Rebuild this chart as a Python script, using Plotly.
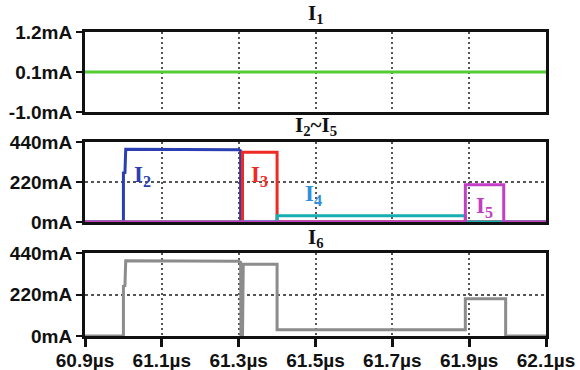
import plotly.graph_objects as go
from plotly.subplots import make_subplots

# Time axis (µs) and tick labels
x_ticks = [60.9, 61.1, 61.3, 61.5, 61.7, 61.9, 62.1]
x_ticktext = ["60.9µs", "61.1µs", "61.3µs", "61.5µs", "61.7µs", "61.9µs", "62.1µs"]

# I1: constant current (mA)
t1 = [60.9, 62.1]
i1 = [0.1, 0.1]
i1_ticks = [-1.0, 0.1, 1.2]
i1_ticktext = ["-1.0mA", "0.1mA", "1.2mA"]

# I2..I5 step waveforms (mA)
t2 = [60.9, 61.0, 61.0, 61.004, 61.006, 61.30, 61.305, 61.305, 62.1]
i2 = [0, 0, 270, 272, 400, 398, 392, 0, 0]

t3 = [60.9, 61.31, 61.31, 61.40, 61.40, 62.1]
i3 = [0, 0, 384, 384, 0, 0]

t4 = [60.9, 61.40, 61.40, 61.89, 61.89, 62.1]
i4 = [0, 0, 34, 34, 0, 0]

t5 = [60.9, 61.89, 61.89, 61.99, 61.99, 62.1]
i5 = [0, 0, 205, 205, 0, 0]

# I6 total current (mA)
t6 = [60.9, 61.0, 61.0, 61.004, 61.006, 61.30, 61.305, 61.306, 61.31, 61.312,
      61.40, 61.40, 61.89, 61.89, 61.995, 61.995, 62.1]
i6 = [0, 0, 265, 268, 400, 398, 392, 0, 0, 382,
      382, 33, 33, 198, 198, 0, 0]

ma_ticks = [0, 220, 440]
ma_ticktext = ["0mA", "220mA", "440mA"]

fig = make_subplots(rows=3, cols=1, shared_xaxes=True)

BLACK = "#111111"
GRID = "#555555"

fig.add_trace(go.Scatter(x=t1, y=i1, mode="lines",
                         line=dict(color="#55cc33", width=3)), row=1, col=1)

fig.add_trace(go.Scatter(x=t2, y=i2, mode="lines",
                         line=dict(color="#2b3fb3", width=3)), row=2, col=1)
fig.add_trace(go.Scatter(x=t3, y=i3, mode="lines",
                         line=dict(color="#ee2a24", width=3)), row=2, col=1)
fig.add_trace(go.Scatter(x=t4, y=i4, mode="lines",
                         line=dict(color="#17aeb2", width=3)), row=2, col=1)
fig.add_trace(go.Scatter(x=t5, y=i5, mode="lines",
                         line=dict(color="#c23ec4", width=3)), row=2, col=1)

fig.add_trace(go.Scatter(x=t6, y=i6, mode="lines",
                         line=dict(color="#8c8c8c", width=3)), row=3, col=1)

for tr in fig.data:
    tr.cliponaxis = False

tick_font = dict(family="Liberation Sans, Arial, sans-serif", size=19,
                 color=BLACK, weight="bold")

common_x = dict(range=[60.9, 62.1], tickvals=x_ticks, showline=True,
                linecolor=BLACK, linewidth=3, mirror=True, zeroline=False,
                automargin=False,
                showgrid=True, gridcolor=GRID, gridwidth=1.5, griddash="2px,3px")

fig.update_xaxes(**common_x, ticks="", showticklabels=False, row=1, col=1)
fig.update_xaxes(**common_x, ticks="", showticklabels=False, row=2, col=1)
fig.update_xaxes(**common_x, ticks="outside", ticklen=8, tickwidth=3,
                 tickcolor=BLACK, ticktext=x_ticktext, showticklabels=True,
                 ticklabelstandoff=-3, tickfont=tick_font, row=3, col=1)

common_y = dict(showline=True, linecolor=BLACK, linewidth=3, mirror=True,
                zeroline=False, ticks="outside", ticklen=6, tickwidth=2,
                automargin=False,
                tickcolor=BLACK, tickfont=tick_font, showgrid=True,
                gridcolor=GRID, gridwidth=1.5, griddash="3px,3px")

fig.update_yaxes(**common_y, range=[-1.0, 1.2], tickvals=i1_ticks,
                 ticktext=i1_ticktext, domain=[0.737, 1.0], row=1, col=1)
fig.update_yaxes(**common_y, range=[0, 440], tickvals=ma_ticks,
                 ticktext=ma_ticktext, domain=[0.375, 0.638], row=2, col=1)
fig.update_yaxes(**common_y, range=[0, 440], tickvals=ma_ticks,
                 ticktext=ma_ticktext, domain=[0.0, 0.272], row=3, col=1)

title_font = dict(family="Liberation Serif, Times New Roman, serif", size=21,
                  color=BLACK, weight="bold")
label_font = dict(family="Liberation Serif, Times New Roman, serif", size=23,
                  weight="bold")

annotations = [
    dict(text="I<sub>1</sub>", x=0.5, y=1.0, yshift=3),
    dict(text="I<sub>2</sub>~I<sub>5</sub>", x=0.5, y=0.638, yshift=1),
    dict(text="I<sub>6</sub>", x=0.5, y=0.272, yshift=0),
]
for a in annotations:
    fig.add_annotation(xref="paper", yref="paper", showarrow=False,
                       yanchor="bottom", font=title_font, **a)

trace_labels = [
    ("I<sub>2</sub>", 61.05, 255, "#2b3fb3"),
    ("I<sub>3</sub>", 61.355, 255, "#ee2a24"),
    ("I<sub>4</sub>", 61.495, 150, "#2f8fd8"),
    ("I<sub>5</sub>", 61.94, 80, "#c23ec4"),
]
for text, x, y, color in trace_labels:
    fig.add_annotation(x=x, y=y, xref="x2", yref="y2", text=text,
                       showarrow=False, font=dict(label_font, color=color))

fig.update_layout(
    width=580, height=370,
    margin=dict(l=85, r=34, t=32, b=34),
    paper_bgcolor="white", plot_bgcolor="white",
    showlegend=False,
)

fig.write_html("out.html")
